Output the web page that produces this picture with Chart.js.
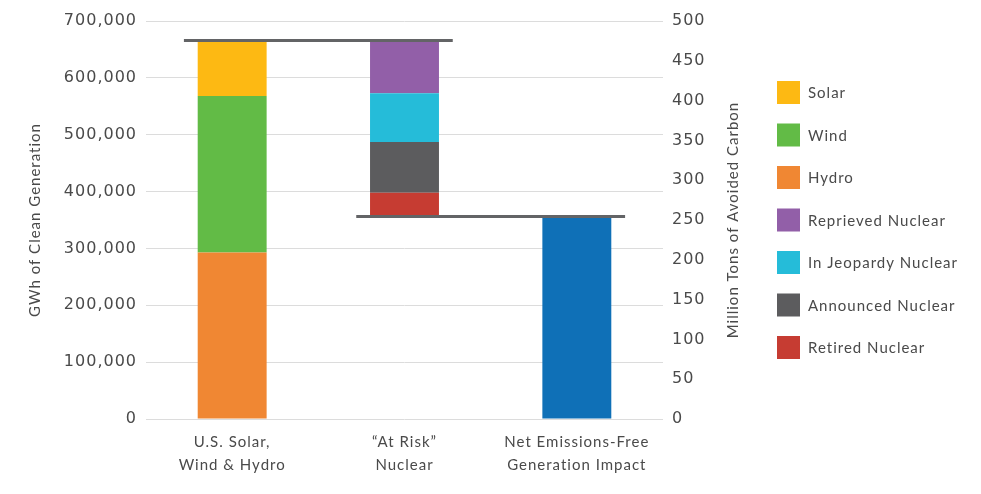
<!DOCTYPE html>
<html>
<head>
<meta charset="utf-8">
<script src="https://cdn.jsdelivr.net/npm/chart.js@4.4.1/dist/chart.umd.min.js"></script>
<style>
  html, body { margin: 0; padding: 0; background: #ffffff; }
  #wrap { width: 981px; height: 494px; position: relative; }
</style>
</head>
<body>
<div id="wrap"><canvas id="c"></canvas></div>
<script>
// ---- data ----
const categories = [["U.S. Solar,", "Wind & Hydro"], ["\u201cAt Risk\u201d", "Nuclear"], ["Net Emissions-Free", "Generation Impact"]];
const hydro     = [293000, null, null];
const wind      = [275000, null, null];
const solar     = [97000, null, null];
const retired   = [null, 42000, null];
const announced = [null, 89000, null];
const jeopardy  = [null, 86000, null];
const reprieved = [null, 92000, null];
const netImpact = [null, null, 356000];
const leftTicks = [0, 100000, 200000, 300000, 400000, 500000, 600000, 700000];
const rightTicks = [0, 50, 100, 150, 200, 250, 300, 350, 400, 450, 500];
const legendOrder = ["Solar", "Wind", "Hydro", "Reprieved Nuclear", "In Jeopardy Nuclear", "Announced Nuclear", "Retired Nuclear"];

// invisible base under the "At Risk" stack = the net value it falls to
const atRiskBase = [null, netImpact[2], null];

const TEXT = '#4a4a4a';
const SANS = 'Lato, "DejaVu Sans", sans-serif';
const TICKF = '"DejaVu Sans", sans-serif';

const spacingPlugin = {
  id: 'spacing',
  beforeUpdate(chart) { chart.ctx.letterSpacing = '1px'; },
  beforeDraw(chart) { chart.ctx.letterSpacing = '1px'; }
};

const connectorPlugin = {
  id: 'connectors',
  afterDatasetsDraw(chart) {
    const ctx = chart.ctx;
    const y = chart.scales.y;
    const barAt = (i) => {
      for (let d = 0; d < chart.data.datasets.length; d++) {
        const v = chart.data.datasets[d].data[i];
        if (v !== null && v !== undefined) return chart.getDatasetMeta(d).data[i];
      }
    };
    const b0 = barAt(0), b1 = barAt(1), b2 = barAt(2);
    const total = hydro[0] + wind[0] + solar[0];
    const net = netImpact[2];
    const ext = b0.width * 0.2;
    ctx.save();
    ctx.strokeStyle = '#636466';
    ctx.lineWidth = 3;
    ctx.beginPath();
    const yt = y.getPixelForValue(total) - 0.5;
    ctx.moveTo(b0.x - b0.width / 2 - ext, yt);
    ctx.lineTo(b1.x + b1.width / 2 + ext, yt);
    const yn = y.getPixelForValue(net);
    ctx.moveTo(b1.x - b1.width / 2 - ext, yn);
    ctx.lineTo(b2.x + b2.width / 2 + ext, yn);
    ctx.stroke();
    ctx.restore();
  },
  afterDraw(chart) {
    const ctx = chart.ctx;
    const a = chart.chartArea;
    const s = chart.scales.y1;
    const midY = (a.top + a.bottom) / 2;
    // right axis title (reads bottom to top)
    ctx.save();
    ctx.letterSpacing = '1px';
    ctx.fillStyle = TEXT;
    ctx.font = '15px ' + SANS;
    ctx.textAlign = 'center';
    ctx.textBaseline = 'middle';
    ctx.translate(s.left + 70, midY);
    ctx.rotate(-Math.PI / 2);
    ctx.fillText('Million Tons of Avoided Carbon', 0, 0);
    ctx.restore();
    // legend
    const items = legendOrder.map(name => {
      const ds = chart.data.datasets.find(d => d.label === name);
      return { text: name, color: ds.backgroundColor };
    });
    const box = 23, pitch = 42.5;
    const bx = s.right + 17;
    const top0 = midY - ((items.length - 1) * pitch) / 2;
    ctx.save();
    ctx.letterSpacing = '1px';
    ctx.font = '15px ' + SANS;
    ctx.textAlign = 'left';
    ctx.textBaseline = 'middle';
    items.forEach((it, i) => {
      const cy = top0 + i * pitch;
      ctx.fillStyle = it.color;
      ctx.fillRect(bx, cy - box / 2, box, box);
      ctx.fillStyle = TEXT;
      ctx.fillText(it.text, bx + box + 8, cy + 1);
    });
    ctx.restore();
  }
};

const barOpts = { barPercentage: 0.4, categoryPercentage: 1.0, borderWidth: 0 };

new Chart(document.getElementById('c'), {
  type: 'bar',
  data: {
    labels: categories,
    datasets: [
      Object.assign({ label: 'Hydro', data: hydro, backgroundColor: '#F08733' }, barOpts),
      Object.assign({ label: 'Wind', data: wind, backgroundColor: '#62BB46' }, barOpts),
      Object.assign({ label: 'Solar', data: solar, backgroundColor: '#FDB913' }, barOpts),
      Object.assign({ label: 'base', data: atRiskBase, backgroundColor: 'rgba(0,0,0,0)' }, barOpts),
      Object.assign({ label: 'Retired Nuclear', data: retired, backgroundColor: '#C63C32' }, barOpts),
      Object.assign({ label: 'Announced Nuclear', data: announced, backgroundColor: '#5C5C5E' }, barOpts),
      Object.assign({ label: 'In Jeopardy Nuclear', data: jeopardy, backgroundColor: '#25BCD9' }, barOpts),
      Object.assign({ label: 'Reprieved Nuclear', data: reprieved, backgroundColor: '#925FA8' }, barOpts),
      Object.assign({ label: 'Net', data: netImpact, backgroundColor: '#0F70B7' }, barOpts)
    ]
  },
  options: {
    responsive: true,
    maintainAspectRatio: false,
    animation: false,
    layout: { padding: { top: 21, left: 26, right: 221, bottom: 18 } },
    scales: {
      x: {
        stacked: true,
        afterFit(scale) { scale.height = 57; },
        grid: { display: false, drawTicks: false },
        border: { display: false },
        ticks: { color: TEXT, font: { family: SANS, size: 15, lineHeight: 1.5 }, padding: 12, maxRotation: 0, autoSkip: false }
      },
      y: {
        stacked: true,
        position: 'left',
        min: 0, max: 700000,
        afterBuildTicks(scale) { scale.ticks = leftTicks.map(v => ({ value: v })); },
        afterFit(scale) { scale.width = 120; },
        grid: { color: '#dcdcdc', lineWidth: 1, drawTicks: false },
        border: { display: false },
        ticks: {
          color: TEXT, padding: 9,
          font: { family: TICKF, size: 16 },
          callback: (v) => v.toLocaleString('en-US')
        },
        title: { display: true, text: 'GWh of Clean Generation', color: TEXT, font: { family: SANS, size: 15 }, padding: 0 }
      },
      y1: {
        position: 'right',
        min: 0, max: 500,
        afterBuildTicks(scale) { scale.ticks = rightTicks.map(v => ({ value: v })); },
        afterFit(scale) { scale.width = 97; },
        grid: { display: false, drawTicks: false },
        border: { display: false },
        ticks: { color: TEXT, padding: 9, font: { family: TICKF, size: 16 } }
      }
    },
    plugins: {
      tooltip: { enabled: false },
      legend: { display: false }
    }
  },
  plugins: [spacingPlugin, connectorPlugin]
});
</script>
</body>
</html>
